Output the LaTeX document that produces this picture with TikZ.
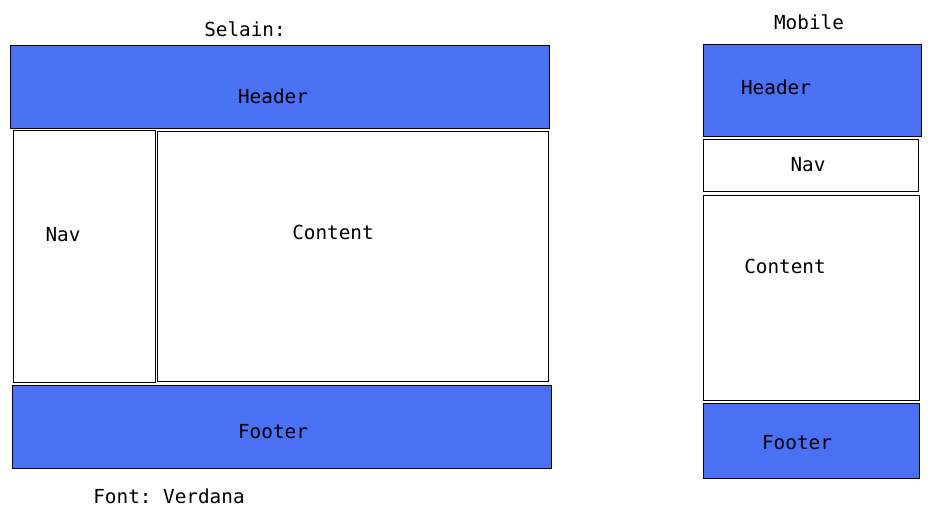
\documentclass[tikz,border=0pt]{standalone}
\usepackage{fontspec}
\setmonofont{DejaVu Sans Mono}
\definecolor{boxblue}{RGB}{74,112,243}
\begin{document}
\begin{tikzpicture}[x=0.03cm,y=-0.03cm,line width=0.7pt,font=\ttfamily\fontsize{16.5}{19}\selectfont]
\useasboundingbox (0,0) rectangle (931,518);
\filldraw[fill=boxblue] (10,45) rectangle (549,128);\filldraw[fill=boxblue] (12,385) rectangle (551,468);
\draw (13,130) rectangle (155,382);\draw (157,131) rectangle (548,381);
\filldraw[fill=boxblue] (703,44) rectangle (921,136);\filldraw[fill=boxblue] (703,403) rectangle (919,478);
\draw (703,139) rectangle (918,191);\draw (703,195) rectangle (919,400);
\begin{scope}
  \node (selain) at (245,29) {Selain:};\node (mobile) at (809,22) {Mobile};
  \node (header) at (273,96) {Header};\node (nav) at (63,235) {Nav};\node (content) at (333,232) {Content};\node (footer) at (273,432) {Footer};
  \node (font) at (169,496) {Font: Verdana};
  \node (mheader) at (776,87) {Header};\node (mnav) at (808,165) {Nav};\node (mcontent) at (785,266) {Content};\node (mfooter) at (797,443) {Footer};
\end{scope}
\end{tikzpicture}
\end{document}
